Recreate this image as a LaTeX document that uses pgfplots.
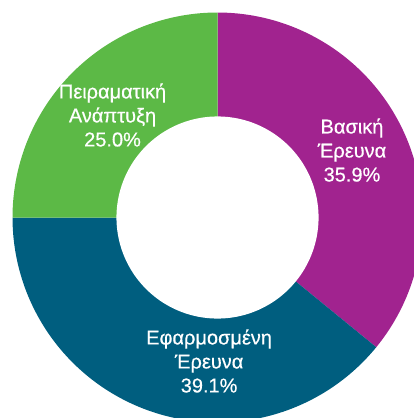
\documentclass[border=0pt]{standalone}
\usepackage{fontspec}
\setmainfont{Liberation Sans}
\newfontfamily\labelfont[FakeBold=0.5]{Liberation Sans}
\usepackage{pgfplots}
\pgfplotsset{compat=1.18}
\definecolor{cPurple}{HTML}{A1238F}
\definecolor{cTeal}{HTML}{005E7F}
\definecolor{cGreen}{HTML}{5CB946}
\begin{document}
\begin{tikzpicture}
\begin{axis}[
  width=414pt, height=418pt, scale only axis,
  xmin=-1.061, xmax=0.9585, ymin=-0.978, ymax=1.061,
  hide axis, clip=true,
]
% Values (percent): Basic 35.9, Applied 39.1, Experimental 25.0 (clockwise from top)
\addplot[fill=cPurple, draw=none, data cs=polar, samples=120, domain={90-35.9*3.6}:90] ({x},1) -- (axis cs:0,0) -- cycle;
\addplot[fill=cTeal, draw=none, data cs=polar, samples=120, domain={90-(35.9+39.1)*3.6}:{90-35.9*3.6}] ({x},1) -- (axis cs:0,0) -- cycle;
\addplot[fill=cGreen, draw=none, data cs=polar, samples=120, domain={90-(35.9+39.1+25.0)*3.6}:{90-(35.9+39.1)*3.6}] ({x},1) -- (axis cs:0,0) -- cycle;
\addplot[fill=white, draw=none, data cs=polar, samples=180, domain=0:360] ({x},0.493) -- cycle;
\node[text=white, align=center, font=\labelfont\fontsize{20}{24}\selectfont] at (axis cs:0.656,0.329) {Βασική\\Έρευνα\\35.9\%};
\node[text=white, align=center, font=\labelfont\fontsize{20}{24}\selectfont] at (axis cs:-0.041,-0.700) {Εφαρμοσμένη\\Έρευνα\\39.1\%};
\node[text=white, align=center, font=\labelfont\fontsize{20}{24}\selectfont] at (axis cs:-0.512,0.500) {Πειραματική\\Ανάπτυξη\\25.0\%};
\end{axis}
\pgfresetboundingbox
\path[use as bounding box] (current axis.south west) rectangle (current axis.north east);
\end{tikzpicture}
\end{document}
